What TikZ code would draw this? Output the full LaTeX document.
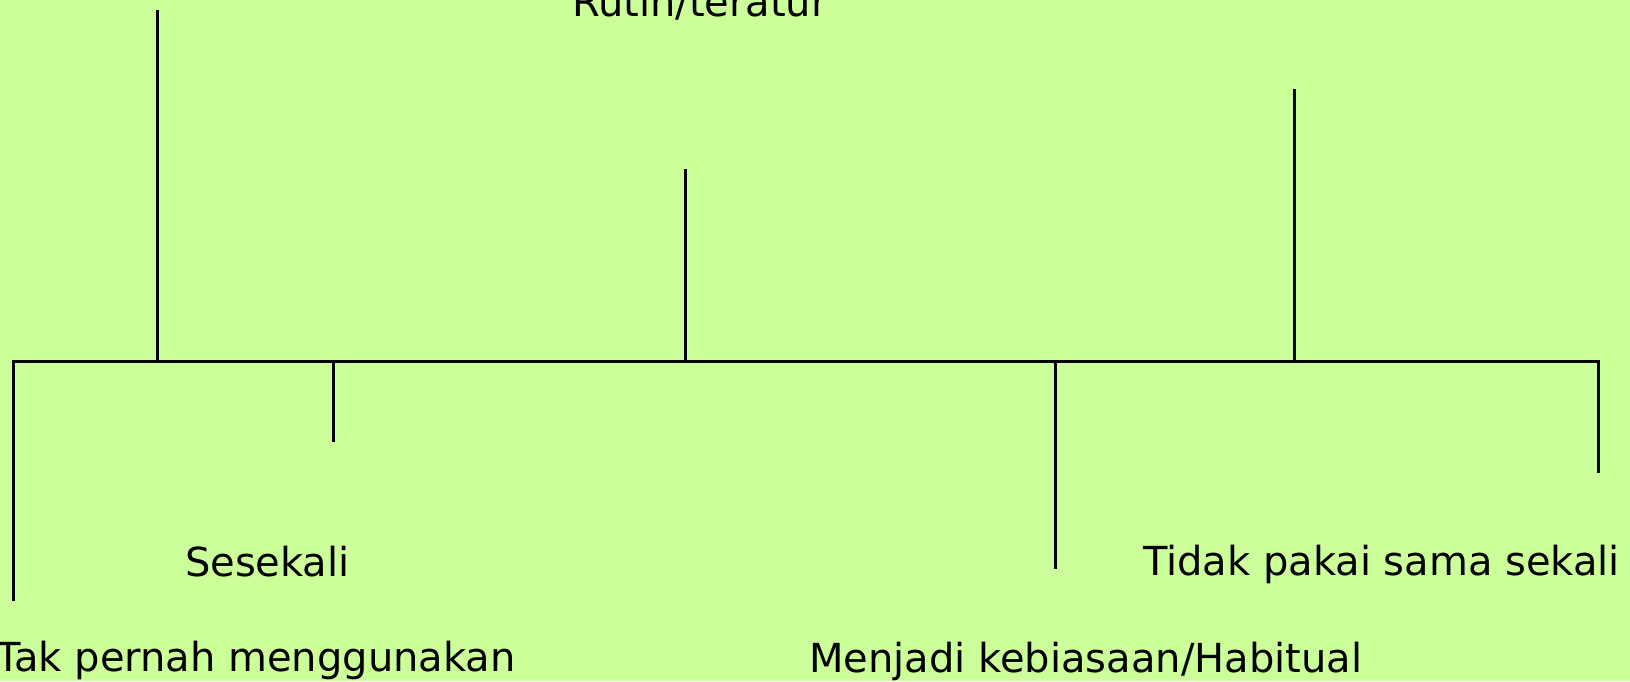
\documentclass[tikz,border=0pt]{standalone}
\usepackage{fontspec}
\setmainfont{DejaVu Sans}
\definecolor{bg}{RGB}{204,255,153}
\tikzset{
  ln/.style={line width=3pt, black, line cap=butt},
  lbl/.style={anchor=base west, inner sep=0pt, outer sep=0pt, font=\fontsize{40pt}{40pt}\selectfont}
}
\begin{document}
\begin{tikzpicture}[x=1pt,y=-1pt]
\fill[bg] (0,0) rectangle (1630,681);
\useasboundingbox (0,0) rectangle (1630,681);
% horizontal line points
\coordinate (h0) at (13.5,361);
\coordinate (h1) at (157,361);
\coordinate (h2) at (333,361);
\coordinate (h3) at (685,361);
\coordinate (h4) at (1055,361);
\coordinate (h5) at (1294,361);
\coordinate (h6) at (1598,361);
% free ends
\coordinate (t1) at (157,10);
\coordinate (t3) at (685,169);
\coordinate (t5) at (1294,89);
\coordinate (b0) at (13.5,601);
\coordinate (b2) at (333,442);
\coordinate (b4) at (1055,569);
\coordinate (b6) at (1598,473);
\draw[ln] (b0) -- (h0) -- (h6) -- (b6);
\draw[ln] (h1) -- (t1);
\draw[ln] (h2) -- (b2);
\draw[ln] (h3) -- (t3);
\draw[ln] (h4) -- (b4);
\draw[ln] (h5) -- (t5);
% labels
\node[lbl] (rutin) at (572,16.7) {Rutin/teratur};
\node[lbl] (ses) at (185,576.7) {Sesekali};
\node[lbl] (tak) at (-3.5,671.7) {Tak pernah menggunakan};
\node[lbl] (menj) at (809,672.3) {Menjadi kebiasaan/Habitual};
\node[lbl] (tidak) at (1143,575.7) {Tidak pakai sama sekali};
\end{tikzpicture}
\end{document}
